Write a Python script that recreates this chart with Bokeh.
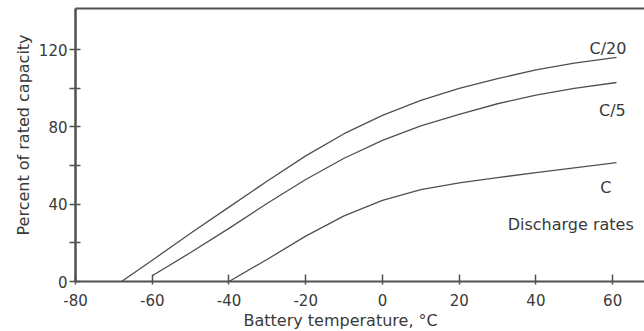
from bokeh.plotting import figure
from bokeh.models import FixedTicker, LinearAxis, Label, Range1d, Title
from bokeh.embed import file_html
from bokeh.resources import INLINE

# ---- data ----
temp_c20 = [-68, -60, -50, -40, -30, -20, -10, 0, 10, 20, 30, 40, 50, 61]
cap_c20 = [0, 11, 25, 38.5, 52, 65, 76.5, 86, 93.8, 100, 105, 109.5, 113, 116]

temp_c5 = [-60, -50, -40, -30, -20, -10, 0, 10, 20, 30, 40, 50, 61]
cap_c5 = [3, 15, 27.5, 40.5, 52.8, 63.8, 73, 80.5, 86.5, 92, 96.5, 100, 103]

temp_c1 = [-40, -30, -20, -10, 0, 10, 20, 30, 40, 50, 61]
cap_c1 = [0, 11.5, 23.5, 34, 42, 47.5, 51, 53.8, 56.3, 58.8, 61.5]

series_names = ["C/20", "C/5", "C"]
annotation_text = "Discharge rates"

x_ticks = [-80, -60, -40, -20, 0, 20, 40, 60]
x_tick_labels = ["-80", "-60", "-40", "-20", "0", "20", "40", "60"]
y_ticks = [0, 20, 40, 60, 80, 100, 120]
y_tick_labels = ["0", "", "40", "", "80", "", "120"]

x_title = "Battery temperature, \u00b0C"
y_title = "Percent of rated capacity"

FONT = "DejaVu Sans"
INK = "#3a3a3a"
LINE = "#505050"

p = figure(width=644, height=331, output_backend="svg", toolbar_location=None,
           x_range=Range1d(-80, 68.3), y_range=Range1d(0, 141.3),
           min_border_left=75, min_border_right=0, min_border_top=8, min_border_bottom=50)
p.outline_line_color = None
p.grid.visible = False
p.background_fill_color = "white"

for t, c in [(temp_c20, cap_c20), (temp_c5, cap_c5), (temp_c1, cap_c1)]:
    p.line(t, c, line_color=LINE, line_width=1.3)

# axes
xa = p.xaxis[0]
xa.ticker = FixedTicker(ticks=x_ticks)
xa.major_label_overrides = dict(zip(x_ticks, x_tick_labels))
xa.major_tick_in = 7
xa.major_tick_out = 3
xa.minor_tick_line_color = None
xa.axis_line_width = 2
xa.axis_line_color = LINE
xa.major_tick_line_color = LINE
xa.major_tick_line_width = 1.5
xa.major_label_text_font = FONT
xa.major_label_text_font_size = "15px"
xa.major_label_text_color = INK
xa.major_label_standoff = 9

ya = p.yaxis[0]
ya.ticker = FixedTicker(ticks=y_ticks)
ya.major_label_overrides = dict(zip(y_ticks, y_tick_labels))
ya.major_tick_in = 5
ya.major_tick_out = 6
ya.minor_tick_line_color = None
ya.axis_line_width = 2.5
ya.axis_line_color = LINE
ya.major_tick_line_color = LINE
ya.major_tick_line_width = 1.5
ya.major_label_text_font = FONT
ya.major_label_text_font_size = "15px"
ya.major_label_text_color = INK
ya.major_label_standoff = 2

top = LinearAxis(ticker=FixedTicker(ticks=[]), axis_line_color=LINE, axis_line_width=2,
                 major_tick_line_color=None, minor_tick_line_color=None,
                 major_label_text_font_size="0px", major_label_standoff=0)
p.add_layout(top, "above")

# series labels
label_x = [63.6, 63.4, 58.2]
label_y = [120.5, 88.3, 48.8]
label_align = ["right", "right", "center"]
for name, lx, ly, al in zip(series_names, label_x, label_y, label_align):
    p.add_layout(Label(x=lx, y=ly, text=name, text_align=al, text_baseline="alphabetic",
                       text_font=FONT, text_font_size="16px", text_color=INK))
p.add_layout(Label(x=65.5, y=29.6, text=annotation_text, text_align="right",
                   text_baseline="alphabetic", text_font=FONT, text_font_size="16px",
                   text_color=INK))

# axis titles
p.add_layout(Title(text=x_title, align="left", offset=168, standoff=0,
                   text_font=FONT, text_font_size="16px", text_font_style="normal",
                   text_color=INK), "below")
p.add_layout(Title(text=y_title, align="left", offset=46, standoff=6,
                   text_font=FONT, text_font_size="16px", text_font_style="normal",
                   text_color=INK), "left")

open("out.html", "w").write(file_html(p, INLINE))
